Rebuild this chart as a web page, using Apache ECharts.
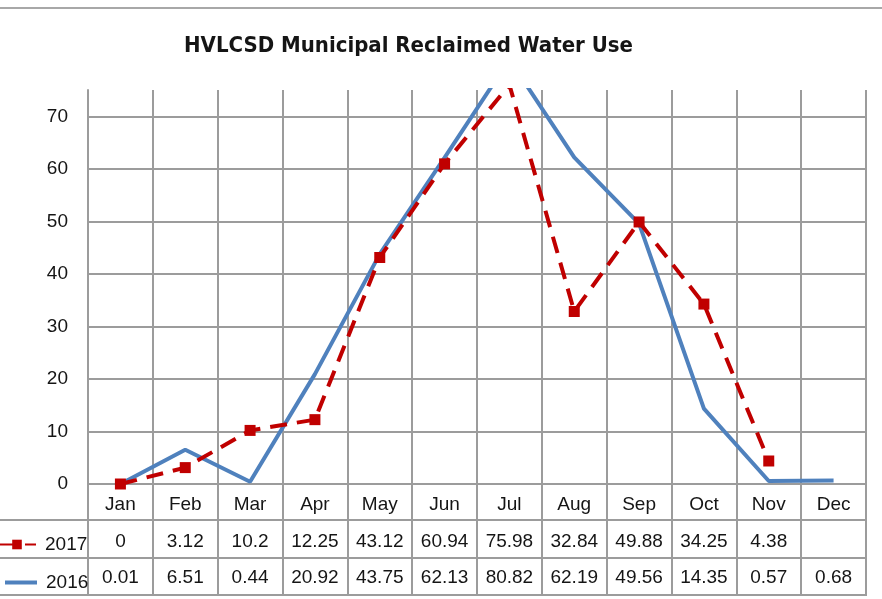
<!DOCTYPE html>
<html>
<head>
<meta charset="utf-8">
<script src="https://cdn.jsdelivr.net/npm/echarts@6/dist/echarts.min.js"></script>
<style>
  html, body { margin: 0; padding: 0; background: #fff; }
  #main { width: 882px; height: 599px; }
</style>
</head>
<body>
<div id="main"></div>
<script>
var months = ['Jan', 'Feb', 'Mar', 'Apr', 'May', 'Jun', 'Jul', 'Aug', 'Sep', 'Oct', 'Nov', 'Dec'];
var use2017 = [0, 3.12, 10.2, 12.25, 43.12, 60.94, 75.98, 32.84, 49.88, 34.25, 4.38, null];
var use2016 = [0.01, 6.51, 0.44, 20.92, 43.75, 62.13, 80.82, 62.19, 49.56, 14.35, 0.57, 0.68];
var yMin = 0;
var yMax = 75;
var yStep = 10;

var gridColor = '#9c9c9c';
var textColor = '#151515';
var font = "'Liberation Sans', Arial, sans-serif";

var chart = echarts.init(document.getElementById('main'), null, { renderer: 'canvas' });

function tableAxis(values, offset, tickLen, margin) {
  return {
    type: 'category',
    data: months,
    position: 'bottom',
    offset: offset,
    boundaryGap: true,
    axisLine: { show: false },
    axisTick: { show: true, interval: 0, length: tickLen, lineStyle: { color: gridColor, width: 2 } },
    axisLabel: {
      interval: 0, margin: margin, fontSize: 19, color: textColor, fontFamily: font,
      formatter: function (v, i) { return values[i] == null ? '' : String(values[i]); }
    },
    splitLine: { show: false }
  };
}

var option = {
  animation: false,
  backgroundColor: '#fff',
  title: {
    text: 'HVLCSD Municipal Reclaimed Water Use',
    left: 179,
    top: 30,
    textStyle: {
      fontSize: 22,
      fontWeight: 'bold',
      color: textColor,
      fontFamily: "'Liberation Sans Narrow', 'DejaVu Sans Condensed', sans-serif"
    }
  },
  legend: [
    {
      data: ['2017'], left: -8, top: 530, itemWidth: 38, itemHeight: 12, itemGap: 0,
      textStyle: { fontSize: 19, color: textColor, fontFamily: font, padding: [0, 0, 0, 4] }
    },
    {
      data: [{ name: '2016', icon: 'rect' }], left: 0, top: 568, itemWidth: 32, itemHeight: 4, itemGap: 0,
      textStyle: { fontSize: 19, color: textColor, fontFamily: font, padding: [0, 0, 0, 4] }
    }
  ],
  grid: { left: 88, right: 16, top: 90, bottom: 115, containLabel: false },
  xAxis: [
    {
      type: 'category',
      data: months,
      boundaryGap: true,
      axisLine: { show: true, lineStyle: { color: gridColor, width: 2 } },
      axisTick: { show: true, interval: 0, length: 36, lineStyle: { color: gridColor, width: 2 } },
      axisLabel: { interval: 0, margin: 11, fontSize: 19, color: textColor, fontFamily: font },
      splitLine: { show: true, interval: 0, lineStyle: { color: gridColor, width: 2 } }
    },
    tableAxis(use2017, 36, 38, 12),
    tableAxis(use2016, 74, 37, 10)
  ],
  yAxis: {
    type: 'value',
    min: yMin,
    max: yMax,
    interval: yStep,
    axisLine: { show: true, lineStyle: { color: gridColor, width: 2 } },
    axisTick: { show: false },
    axisLabel: { margin: 20, fontSize: 19, color: textColor, fontFamily: font, showMaxLabel: false },
    splitLine: { show: true, showMaxLine: false, lineStyle: { color: gridColor, width: 2 } }
  },
  series: [
    {
      name: '2017',
      type: 'line',
      data: use2017,
      xAxisIndex: 0,
      symbol: 'rect',
      symbolSize: 11,
      showAllSymbol: true,
      clip: true,
      itemStyle: { color: '#c00000' },
      lineStyle: { color: '#c00000', width: 4, type: [17, 10] },
      z: 3
    },
    {
      name: '2016',
      type: 'line',
      data: use2016,
      xAxisIndex: 0,
      symbol: 'none',
      clip: true,
      itemStyle: { color: '#4f81bd' },
      lineStyle: { color: '#4f81bd', width: 4 },
      z: 2
    }
  ],
  graphic: [
    { type: 'line', shape: { x1: 0, y1: 8, x2: 882, y2: 8 }, style: { stroke: '#a8a8a8', lineWidth: 2 } },
    { type: 'line', shape: { x1: 0, y1: 520, x2: 867, y2: 520 }, style: { stroke: gridColor, lineWidth: 2 } },
    { type: 'line', shape: { x1: 0, y1: 558, x2: 867, y2: 558 }, style: { stroke: gridColor, lineWidth: 2 } },
    { type: 'line', shape: { x1: 0, y1: 595, x2: 867, y2: 595 }, style: { stroke: gridColor, lineWidth: 2 } }
  ]
};

chart.setOption(option);

window.addEventListener('resize', function () {
  chart.resize();
});
</script>
</body>
</html>
